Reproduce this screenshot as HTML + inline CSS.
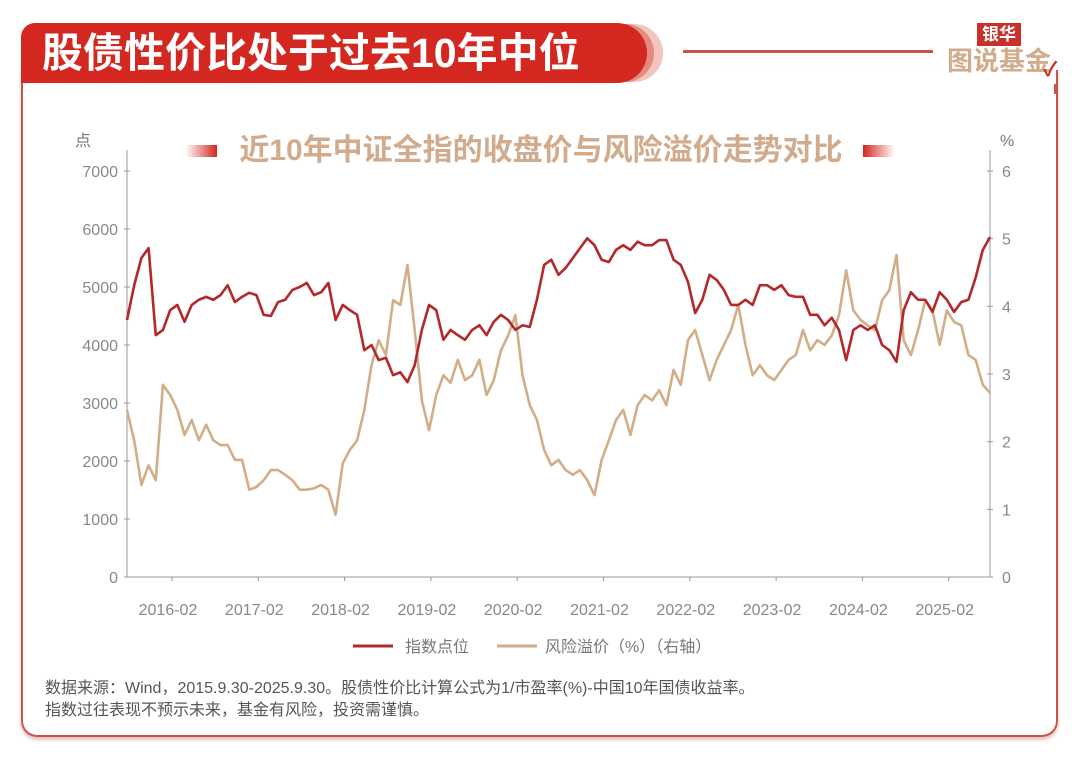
<!DOCTYPE html>
<html><head><meta charset="utf-8">
<style>
body{margin:0;width:1080px;height:759px;background:#fff;overflow:hidden;font-family:"Liberation Sans","Noto Sans CJK SC",sans-serif;}
#root{position:relative;width:1080px;height:759px;}
.abs{position:absolute;}
</style></head>
<body><div id="root">
<div class="abs" style="left:21px;top:70px;width:1033px;height:665px;border:2.5px solid #c9554a;border-top:none;border-radius:0 0 16px 16px;box-shadow:0 3px 3px rgba(180,80,70,0.35);"></div>
<div class="abs" style="left:560px;top:24px;width:103px;height:58px;background:#f2c4bd;border-radius:0 30px 30px 0;"></div>
<div class="abs" style="left:550px;top:24px;width:104px;height:58px;background:#e58a80;border-radius:0 30px 30px 0;"></div>
<div class="abs" style="left:21px;top:23px;width:626px;height:60px;background:#d3271f;border-radius:14px 30px 30px 0;"></div>
<div class="abs" style="left:42px;top:27px;font-size:41px;font-weight:bold;color:#fff;line-height:52px;">股债性价比处于过去10年中位</div>
<div class="abs" style="left:683px;top:50px;width:250px;height:3px;background:#c9554a;"></div>
<div class="abs" style="left:977px;top:23px;width:44px;height:23px;background:#c9302a;color:#fff;font-size:17px;font-weight:bold;line-height:23px;text-align:center;">银华</div>
<div class="abs" style="left:947px;top:46px;font-size:26px;font-weight:bold;color:#d1ab8c;line-height:30px;">图说基金</div>
<div class="abs" style="left:1043px;top:60px;color:#c9302a;font-size:20px;font-weight:bold;line-height:20px;">✓</div>
<div class="abs" style="left:1054px;top:84px;width:2.5px;height:10px;background:#c9554a;"></div>
<div class="abs" style="left:185px;top:145px;width:32px;height:12px;background:linear-gradient(90deg,#fff,#d3271f);"></div>
<div class="abs" style="left:863px;top:145px;width:32px;height:12px;background:linear-gradient(90deg,#d3271f,#fff);"></div>
<div class="abs" style="left:226px;top:132px;width:630px;text-align:center;font-size:30px;font-weight:bold;color:#d1ab8c;line-height:38px;white-space:nowrap;">近10年中证全指的收盘价与风险溢价走势对比</div>
<svg class="abs" style="left:0;top:0" width="1080" height="759" id="chart"></svg>
<div class="abs" style="left:45px;top:678px;font-size:16px;color:#555;line-height:22px;">数据来源：Wind，2015.9.30-2025.9.30。股债性价比计算公式为1/市盈率(%)-中国10年国债收益率。<br>指数过往表现不预示未来，基金有风险，投资需谨慎。</div>
</div>
<script>
const leftTicks=[0,1000,2000,3000,4000,5000,6000,7000];
const rightTicks=[0,1,2,3,4,5,6];
const xLabels=["2016-02","2017-02","2018-02","2019-02","2020-02","2021-02","2022-02","2023-02","2024-02","2025-02"];
const indexValues=[4430,5030,5500,5670,4170,4260,4600,4690,4400,4690,4780,4830,4780,4860,5030,4740,4830,4900,4860,4520,4500,4740,4780,4950,5000,5070,4860,4910,5070,4430,4690,4600,4520,3910,4000,3740,3780,3480,3530,3360,3650,4260,4690,4600,4090,4260,4170,4090,4260,4340,4170,4400,4520,4430,4260,4340,4310,4780,5380,5470,5210,5330,5500,5670,5840,5720,5470,5430,5640,5720,5640,5780,5720,5720,5810,5810,5470,5380,5090,4550,4780,5210,5120,4950,4690,4690,4780,4690,5030,5030,4950,5030,4860,4830,4830,4520,4520,4340,4470,4260,3740,4260,4340,4260,4340,4000,3910,3710,4600,4910,4780,4780,4570,4910,4780,4570,4740,4780,5160,5640,5860];
const premiumValues=[2.47,2.02,1.36,1.65,1.43,2.84,2.69,2.47,2.10,2.32,2.02,2.25,2.02,1.95,1.95,1.73,1.73,1.29,1.33,1.43,1.58,1.58,1.51,1.43,1.29,1.29,1.31,1.36,1.29,0.92,1.68,1.88,2.02,2.47,3.13,3.50,3.28,4.09,4.02,4.61,3.65,2.61,2.17,2.69,2.98,2.87,3.21,2.91,2.98,3.21,2.69,2.91,3.35,3.57,3.87,2.98,2.54,2.32,1.88,1.65,1.73,1.58,1.51,1.58,1.43,1.21,1.73,2.02,2.32,2.47,2.10,2.54,2.69,2.61,2.76,2.54,3.06,2.84,3.50,3.65,3.28,2.91,3.21,3.43,3.65,4.02,3.43,2.98,3.13,2.98,2.91,3.06,3.21,3.28,3.65,3.35,3.50,3.43,3.57,3.87,4.53,3.94,3.80,3.72,3.65,4.09,4.24,4.76,3.50,3.28,3.65,4.09,3.94,3.43,3.94,3.77,3.72,3.28,3.21,2.84,2.72];
const svg=document.getElementById('chart');const NS='http://www.w3.org/2000/svg';
const X0=127,X1=990,Y0=577,YT=171;
const yL=v=>Y0-(v/7000)*(Y0-YT);
const yR=v=>Y0-(v/6)*(Y0-YT);
const xI=(i,n)=>X0+i*(X1-X0)/(n-1);
const xYear=k=>X0+(5.7+12*k)/120*(X1-X0);
function mk(t,a,txt){const e=document.createElementNS(NS,t);for(const k in a)e.setAttribute(k,a[k]);if(txt!==undefined)e.textContent=txt;svg.appendChild(e);return e;}
let e;
e=mk('line',{x1:X0,y1:150,x2:X0,y2:Y0,stroke:'#999','stroke-width':1});


e=mk('line',{x1:X1,y1:150,x2:X1,y2:Y0,stroke:'#999','stroke-width':1});


e=mk('line',{x1:X0,y1:Y0,x2:X1,y2:Y0,stroke:'#999','stroke-width':1});


leftTicks.forEach(v=>{
 mk('line',{x1:X0-3,y1:yL(v),x2:X0+3,y2:yL(v),stroke:'#999'});
 e=mk('text',{x:118,y:yL(v)+6,'text-anchor':'end','font-size':16,fill:'#888','font-family':'Liberation Sans, sans-serif'},String(v));
 
 
});
rightTicks.forEach(v=>{
 mk('line',{x1:X1-3,y1:yR(v),x2:X1+3,y2:yR(v),stroke:'#999'});
 e=mk('text',{x:1002,y:yR(v)+6,'font-size':16,fill:'#888','font-family':'Liberation Sans, sans-serif'},String(v));
 
 
});
xLabels.forEach((l,k)=>{
 const x=xYear(k);
 mk('line',{x1:x+4,y1:Y0,x2:x+4,y2:Y0+4,stroke:'#999'});
 e=mk('text',{x:x,y:615,'text-anchor':'middle','font-size':16,fill:'#888','font-family':'Liberation Sans, sans-serif'},l);
 
 
});
e=mk('text',{x:75,y:146,'font-size':16,fill:'#777','font-family':'Noto Sans CJK SC, sans-serif'},'点');


e=mk('text',{x:1000,y:146,'font-size':16,fill:'#777','font-family':'Liberation Sans, sans-serif'},'%');


e=mk('polyline',{points:premiumValues.map((v,i)=>xI(i,premiumValues.length)+','+yR(v)).join(' '),fill:'none',stroke:'#d2ae88','stroke-width':2.6,'stroke-linejoin':'round'});


e=mk('polyline',{points:indexValues.map((v,i)=>xI(i,indexValues.length)+','+yL(v)).join(' '),fill:'none',stroke:'#b3282a','stroke-width':2.6,'stroke-linejoin':'round'});


e=mk('line',{x1:353,y1:646,x2:393,y2:646,stroke:'#b3282a','stroke-width':3});


e=mk('text',{x:405,y:652,'font-size':16,fill:'#777','font-family':'Liberation Sans, Noto Sans CJK SC, sans-serif'},'指数点位');


e=mk('line',{x1:497,y1:646,x2:537,y2:646,stroke:'#d2ae88','stroke-width':3});


e=mk('text',{x:545,y:652,'font-size':16,fill:'#777','font-family':'Liberation Sans, Noto Sans CJK SC, sans-serif'},'风险溢价（%）（右轴）');


</script>
</body></html>
